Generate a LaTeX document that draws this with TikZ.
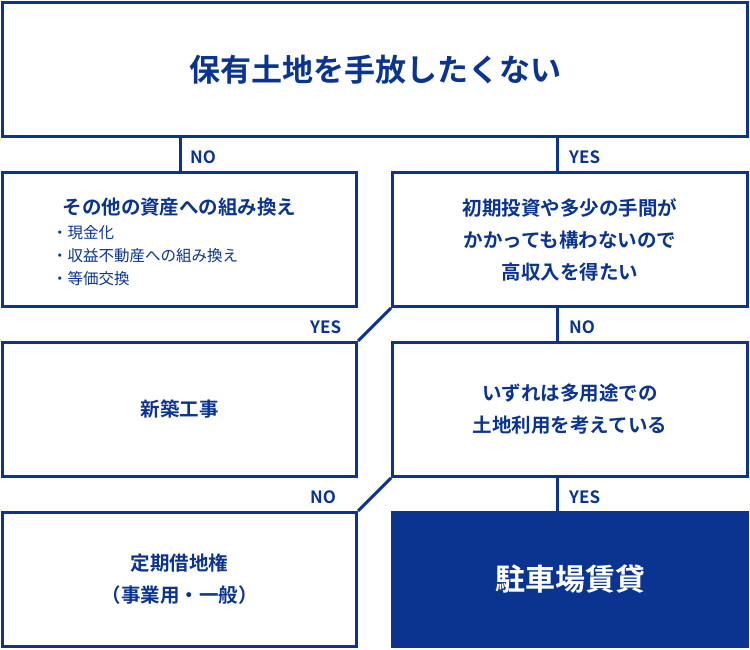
\documentclass[tikz,border=0pt]{standalone}
\usepackage{fontspec}
\setmainfont{Noto Sans CJK JP}[BoldFont={* Bold}]
\definecolor{nv}{HTML}{0A3490}
\begin{document}
\begin{tikzpicture}[x=1pt,y=-1pt,
 bx/.style={draw=nv,line width=3pt,text=nv,align=center,inner sep=0pt},
 ln/.style={draw=nv,line width=3pt},
 lb/.style={text=nv,font=\bfseries\fontsize{17}{17}\selectfont,anchor=west,inner sep=0pt}]
\useasboundingbox (0,0) rectangle (750,650);
\node[bx,minimum width=745,minimum height=134,font=\bfseries\fontsize{31}{34}\selectfont] (top) at (375,69.5) {保有土地を手放したくない};
\node[bx,minimum width=354,minimum height=134] (a) at (179.5,239.5) {};
\node[text=nv,font=\bfseries\fontsize{19.5}{22}\selectfont] (at) at (179.5,207) {その他の資産への組み換え};
\node[text=nv,font=\fontsize{15.5}{23}\selectfont,align=left,anchor=north west,inner sep=0pt] (al) at (52,225) {・現金化\\・収益不動産への組み換え\\・等価交換};
\node[bx,minimum width=355,minimum height=134,font=\bfseries\fontsize{19.5}{32}\selectfont] (b) at (570,239.5) {初期投資や多少の手間が\\かかっても構わないので\\高収入を得たい};
\node[bx,minimum width=354,minimum height=134,font=\bfseries\fontsize{19.5}{22}\selectfont] (c) at (179.5,409.5) {新築工事};
\node[bx,minimum width=355,minimum height=134,font=\bfseries\fontsize{19.5}{32}\selectfont] (d) at (570,409.5) {いずれは多用途での\\土地利用を考えている};
\node[bx,minimum width=354,minimum height=134,font=\bfseries\fontsize{19.5}{32}\selectfont] (e) at (179.5,579.5) {定期借地権\\（事業用・一般）};
\node[bx,fill=nv,text=white,minimum width=355,minimum height=134,font=\bfseries\fontsize{30}{34}\selectfont] (f) at (570,579.5) {駐車場賃貸};
\draw[ln] (top.south -| 180,0) -- (a.north -| 180,0);
\draw[ln] (top.south -| 557,0) -- (b.north -| 557,0);
\draw[ln] (b.south -| 557,0) -- (d.north -| 557,0);
\draw[ln] (d.south -| 557,0) -- (f.north -| 557,0);
\draw[ln] (b.south west) -- (c.north east);
\draw[ln] (d.south west) -- (e.north east);
\node[lb] (l1) at (190,157) {NO};
\node[lb] (l2) at (569,157) {YES};
\node[lb] (l3) at (310,327) {YES};
\node[lb] (l4) at (569,327) {NO};
\node[lb] (l5) at (310,497) {NO};
\node[lb] (l6) at (569,497) {YES};
\end{tikzpicture}
\end{document}
